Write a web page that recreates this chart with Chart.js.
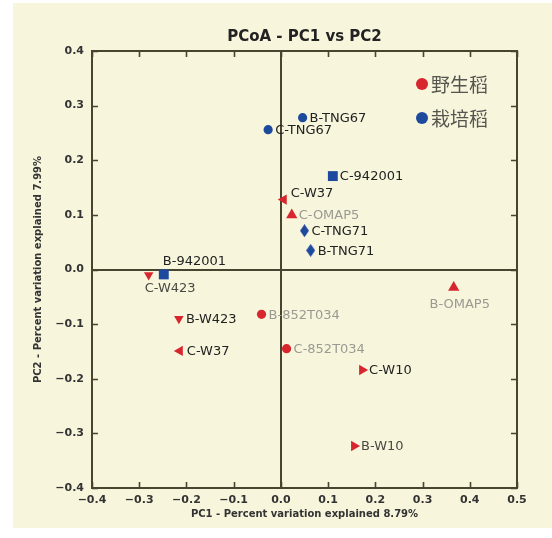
<!DOCTYPE html>
<html><head><meta charset="utf-8">
<script src="https://cdn.jsdelivr.net/npm/chart.js@4"></script>
<style>html,body{margin:0;padding:0;background:#fff;}canvas{display:block;}</style>
</head><body>
<canvas id="c" width="552" height="538"></canvas>
<script>
// ---- data ----
const sampleNames = ['B-TNG67','C-TNG67','C-942001','C-W37','C-OMAP5','C-TNG71','B-TNG71','B-942001','C-W423','B-OMAP5','B-W423','B-852T034','C-W37','C-852T034','C-W10','B-W10'];
const pc1 = [0.046, -0.027, 0.110, 0.006, 0.023, 0.050, 0.063, -0.248, -0.280, 0.366, -0.216, -0.041, -0.214, 0.012, 0.172, 0.155];
const pc2 = [0.278, 0.256, 0.171, 0.128, 0.100, 0.071, 0.035, -0.009, -0.010, -0.033, -0.090, -0.082, -0.149, -0.145, -0.184, -0.323];
const groupOf = ['cult','cult','cult','wild','wild','cult','cult','cult','wild','wild','wild','wild','wild','wild','wild','wild'];
const groupNames = { wild: '野生稻', cult: '栽培稻' };
const groupOrder = ['wild', 'cult'];
const markerOf = ['circle','circle','square','triLeft','triUp','diamond','diamond','square','triDown','triUp','triDown','circle','triLeft','circle','triRight','triRight'];
const labelSide = ['right','right','right','upright','right','right','right','above','below','belowc','right','right','right','right','right','right'];
const labelTone = ['dark','dark','dark','dark','light','dark','dark','dark','mid','light','dark','light','dark','light','dark','mid'];
const xTickValues = [-0.4,-0.3,-0.2,-0.1,0.0,0.1,0.2,0.3,0.4,0.5];
const yTickValues = [-0.4,-0.3,-0.2,-0.1,0.0,0.1,0.2,0.3,0.4];
const titleText = 'PCoA - PC1 vs PC2';
const xTitle = 'PC1 - Percent variation explained 8.79%';
const yTitle = 'PC2 - Percent variation explained 7.99%';

// ---- styles ----
const CREAM = '#f7f5dc', INK = '#47442f';
const COLORS = { wild: '#d8262e', cult: '#1e4a9e' };
const TONES = { dark: '#222', mid: '#4a4a44', light: '#9a9a92' };

function thinDiamond(color) {
  const cv = document.createElement('canvas');
  cv.width = 9; cv.height = 13;
  const g = cv.getContext('2d');
  g.fillStyle = color;
  g.beginPath(); g.moveTo(4.5, 0); g.lineTo(9, 6.5); g.lineTo(4.5, 13); g.lineTo(0, 6.5); g.closePath(); g.fill();
  return cv;
}
function styleFor(m, color) {
  switch (m) {
    case 'circle': return { s: 'circle', r: 4.6, rot: 0 };
    case 'square': return { s: 'rect', r: 7, rot: 0 };
    case 'diamond': return { s: thinDiamond(color), r: 6, rot: 0 };
    case 'triUp': return { s: 'triangle', r: 6.5, rot: 0 };
    case 'triDown': return { s: 'triangle', r: 5.5, rot: 180 };
    case 'triLeft': return { s: 'triangle', r: 6, rot: 270 };
    case 'triRight': return { s: 'triangle', r: 6, rot: 90 };
  }
}

const datasets = groupOrder.map(gk => {
  const idx = sampleNames.map((_, i) => i).filter(i => groupOf[i] === gk);
  const st = idx.map(i => styleFor(markerOf[i], COLORS[gk]));
  return {
    label: groupNames[gk],
    data: idx.map(i => ({ x: pc1[i], y: pc2[i], name: sampleNames[i], side: labelSide[i], tone: labelTone[i] })),
    backgroundColor: COLORS[gk],
    borderColor: COLORS[gk],
    borderWidth: 0,
    pointStyle: st.map(o => o.s),
    pointRadius: st.map(o => o.r),
    pointHoverRadius: st.map(o => o.r),
    pointRotation: st.map(o => o.rot)
  };
});

const fmt = v => (Math.abs(v) < 1e-9 ? '0.0' : v.toFixed(1).replace('-', '\u2212'));

const decor = {
  id: 'decor',
  beforeDraw(chart) {
    const c = chart.ctx;
    c.save(); c.fillStyle = CREAM; c.fillRect(13, 3, chart.width - 13, 525); c.restore();
  },
  beforeDatasetsDraw(chart) {
    const c = chart.ctx, a = chart.chartArea, xs = chart.scales.x, ys = chart.scales.y;
    c.save();
    c.strokeStyle = INK; c.lineWidth = 2;
    c.strokeRect(a.left, a.top, a.right - a.left, a.bottom - a.top);
    c.lineWidth = 1.6;
    c.beginPath();
    xTickValues.forEach(v => {
      const px = Math.round(xs.getPixelForValue(v)) + 0.5;
      c.moveTo(px, a.bottom); c.lineTo(px, a.bottom - 6);
      c.moveTo(px, a.top); c.lineTo(px, a.top + 6);
    });
    yTickValues.forEach(v => {
      const py = Math.round(ys.getPixelForValue(v)) + 0.5;
      c.moveTo(a.left, py); c.lineTo(a.left + 6, py);
      c.moveTo(a.right, py); c.lineTo(a.right - 6, py);
    });
    c.stroke();
    c.restore();
  },
  afterDatasetsDraw(chart) {
    const c = chart.ctx, a = chart.chartArea;
    c.save();
    c.font = '13px "DejaVu Sans"';
    chart.data.datasets.forEach((ds, di) => {
      const meta = chart.getDatasetMeta(di);
      meta.data.forEach((pt, i) => {
        const d = ds.data[i];
        c.fillStyle = TONES[d.tone];
        c.textBaseline = 'middle';
        let x = pt.x, y = pt.y;
        if (d.side === 'right') { c.textAlign = 'left'; x += 7; y += 1; }
        else if (d.side === 'upright') { c.textAlign = 'left'; x += 7; y -= 6; }
        else if (d.side === 'above') { c.textAlign = 'left'; x -= 1; y -= 13; }
        else if (d.side === 'below') { c.textAlign = 'left'; x -= 4; y += 14; }
        else if (d.side === 'belowc') { c.textAlign = 'center'; x += 6; y += 17; }
        c.fillText(d.name, x, y);
      });
    });
    // legend
    c.font = '19px "Noto Sans CJK SC"';
    c.textAlign = 'left'; c.textBaseline = 'middle';
    chart.data.datasets.forEach((ds, di) => {
      const cx = a.right - 95, cy = a.top + 33 + di * 34;
      c.fillStyle = ds.backgroundColor;
      c.beginPath(); c.arc(cx, cy, 6, 0, Math.PI * 2); c.fill();
      c.fillStyle = '#55554f';
      c.fillText(ds.label, cx + 9, cy + 1);
    });
    c.restore();
  }
};

const tickFont = { family: 'DejaVu Sans', size: 11, weight: 'bold' };
const titleFont = { family: 'DejaVu Sans', size: 10, weight: 'bold' };
const zeroColor = c => (c.tick && Math.abs(c.tick.value) < 1e-9 ? INK : 'rgba(0,0,0,0)');
const zeroWidth = c => (c.tick && Math.abs(c.tick.value) < 1e-9 ? 2 : 0);

new Chart(document.getElementById('c'), {
  type: 'scatter',
  data: { datasets },
  options: {
    responsive: false,
    devicePixelRatio: 1,
    animation: false,
    events: [],
    layout: { padding: { left: 0, right: 35, top: 0, bottom: 0 } },
    plugins: {
      legend: { display: false },
      tooltip: { enabled: false },
      title: {
        display: true, text: titleText, fullSize: false,
        font: { family: 'DejaVu Sans', size: 15, weight: 'bold' }, color: '#222',
        padding: { top: 28, bottom: 5 }
      }
    },
    scales: {
      x: {
        type: 'linear', min: -0.4, max: 0.5,
        afterBuildTicks: s => { s.ticks = xTickValues.map(v => ({ value: v })); },
        afterFit: s => { s.height = 50; },
        ticks: { callback: v => fmt(v), font: tickFont, color: '#333', padding: 6, maxRotation: 0, autoSkip: false },
        grid: { drawTicks: false, color: zeroColor, lineWidth: zeroWidth },
        border: { display: false },
        title: { display: true, text: xTitle, font: titleFont, color: '#333', padding: { top: 0, bottom: 18 } }
      },
      y: {
        type: 'linear', min: -0.4, max: 0.4,
        afterBuildTicks: s => { s.ticks = yTickValues.map(v => ({ value: v })); },
        afterFit: s => { s.width = 92; },
        ticks: { callback: v => fmt(v), font: tickFont, color: '#333', padding: 8, autoSkip: false },
        grid: { drawTicks: false, color: zeroColor, lineWidth: zeroWidth },
        border: { display: false },
        title: { display: true, text: yTitle, font: titleFont, color: '#333', padding: { top: 32, bottom: 0 } }
      }
    }
  },
  plugins: [decor]
});
</script>
</body></html>
